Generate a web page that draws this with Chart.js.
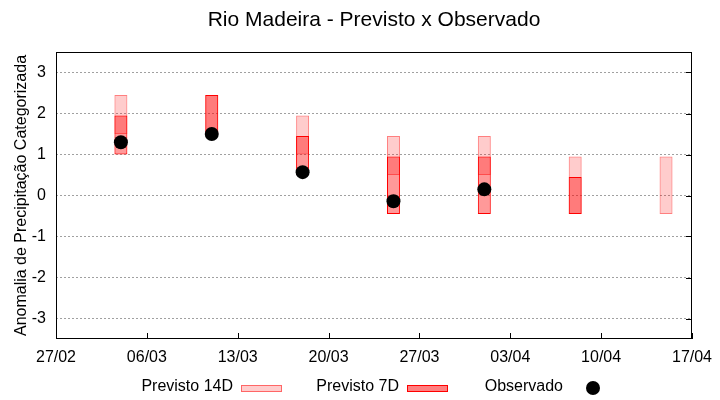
<!DOCTYPE html>
<html>
<head>
<meta charset="utf-8">
<script src="https://cdn.jsdelivr.net/npm/chart.js@4.4.0/dist/chart.umd.min.js"></script>
<style>
  body { margin: 0; background: #fff; }
</style>
</head>
<body>
<canvas id="chart" width="720" height="400"></canvas>
<script>
const startDate = "2023-02-27";
const endDate = "2023-04-17";
const forecastDates = ["2023-03-04", "2023-03-11", "2023-03-18", "2023-03-25", "2023-04-01", "2023-04-08", "2023-04-15"];
const xTickLabels = ["27/02", "06/03", "13/03", "20/03", "27/03", "03/04", "10/04", "17/04"];
const yTickValues = [-3, -2, -1, 0, 1, 2, 3];

// faixas previstas (limite inferior / superior)
const prev14Low = [1.5, 1.5, 1.0, 0.5, 0.5, -0.45, -0.45];
const prev14High = [2.45, 2.45, 1.95, 1.45, 1.45, 0.95, 0.95];
const prev7Low = [1.0, 1.5, 0.5, -0.45, -0.45, -0.45, null];
const prev7High = [1.95, 2.45, 1.45, 0.95, 0.95, 0.45, null];
const observado = [1.3, 1.5, 0.57, -0.14, 0.15, null, null];

function dayOffset(d) {
  return (Date.parse(d) - Date.parse(startDate)) / 86400000;
}

function rangeData(low, high) {
  return forecastDates
    .map((d, i) => ({ x: dayOffset(d), y: [low[i], high[i]] }))
    .filter((p, i) => low[i] !== null && high[i] !== null);
}

function pointData(values) {
  return forecastDates
    .map((d, i) => ({ x: dayOffset(d), y: values[i] }))
    .filter((p, i) => values[i] !== null);
}

Chart.defaults.font.family = "'Liberation Sans', Arial, sans-serif";
Chart.defaults.font.size = 16;
Chart.defaults.color = "#000";

const framePlugin = {
  id: "frame",
  afterDraw(chart) {
    const { ctx, chartArea: a, scales } = chart;
    ctx.save();
    ctx.strokeStyle = "#000";
    ctx.lineWidth = 1;
    ctx.beginPath();
    scales.x.ticks.forEach((t) => {
      const px = Math.round(scales.x.getPixelForValue(t.value)) + 0.5;
      ctx.moveTo(px, a.bottom);
      ctx.lineTo(px, a.bottom - 6);
    });
    scales.y.ticks.forEach((t) => {
      const py = Math.round(scales.y.getPixelForValue(t.value)) + 0.5;
      ctx.moveTo(a.right, py);
      ctx.lineTo(a.right - 6, py);
    });
    ctx.stroke();
    ctx.strokeRect(a.left + 0.5, a.top + 0.5, a.right - a.left - 1, a.bottom - a.top - 1);

    // titulo
    ctx.fillStyle = "#000";
    ctx.font = "21px 'Liberation Sans', Arial, sans-serif";
    ctx.textAlign = "center";
    ctx.textBaseline = "middle";
    ctx.fillText("Rio Madeira - Previsto x Observado", (a.left + a.right) / 2, 20);

    // legenda
    ctx.font = "16px 'Liberation Sans', Arial, sans-serif";
    ctx.textAlign = "right";
    ctx.fillText("Previsto 14D", 233, 387);
    ctx.fillText("Previsto 7D", 399, 387);
    ctx.fillText("Observado", 563, 387);

    ctx.fillStyle = "rgba(255,0,0,0.2)";
    ctx.fillRect(241, 385, 41, 7);
    ctx.strokeStyle = "rgba(255,0,0,0.5)";
    ctx.strokeRect(241.5, 385.5, 40, 6);

    ctx.fillStyle = "rgba(255,0,0,0.5)";
    ctx.fillRect(407, 385, 41, 7);
    ctx.strokeStyle = "#ff0000";
    ctx.strokeRect(407.5, 385.5, 40, 6);

    ctx.fillStyle = "#000";
    ctx.beginPath();
    ctx.arc(593, 388, 7, 0, Math.PI * 2);
    ctx.fill();
    ctx.restore();
  },
};

new Chart(document.getElementById("chart"), {
  type: "bar",
  data: {
    datasets: [
      {
        label: "Previsto 14D",
        data: rangeData(prev14Low, prev14High),
        backgroundColor: "rgba(255,0,0,0.2)",
        borderColor: "rgba(255,0,0,0.5)",
        borderWidth: 1,
        borderSkipped: false,
        grouped: false,
        barPercentage: 1 / 7,
        categoryPercentage: 1,
        order: 3,
      },
      {
        label: "Previsto 7D",
        data: rangeData(prev7Low, prev7High),
        backgroundColor: "rgba(255,0,0,0.4)",
        borderColor: "#ff0000",
        borderWidth: 1,
        borderSkipped: false,
        grouped: false,
        barPercentage: 1 / 7,
        categoryPercentage: 1,
        order: 2,
      },
      {
        type: "scatter",
        label: "Observado",
        data: pointData(observado),
        backgroundColor: "#000",
        borderWidth: 0,
        pointRadius: 7,
        order: 1,
      },
    ],
  },
  options: {
    responsive: false,
    animation: false,
    layout: { padding: { top: 52, right: 28, left: 0, bottom: 0 } },
    plugins: {
      legend: { display: false },
      title: { display: false },
      tooltip: { enabled: false },
    },
    scales: {
      x: {
        type: "linear",
        offset: false,
        min: 0,
        max: dayOffset(endDate),
        grid: { display: false, offset: false },
        border: { display: false },
        ticks: {
          stepSize: 7,
          padding: 1,
          maxRotation: 0,
          autoSkip: false,
          callback: (v, i) => xTickLabels[i],
        },
        afterFit: (scale) => { scale.height = 61; },
      },
      y: {
        min: -3.5,
        max: 3.5,
        afterBuildTicks: (scale) => {
          scale.ticks = yTickValues.map((v) => ({ value: v }));
        },
        grid: { color: "#a0a0a0", drawTicks: false },
        border: { display: false, dash: [2, 2] },
        ticks: { padding: 10, callback: (v) => v },
        title: {
          display: true,
          text: "Anomalia de Precipitação Categorizada",
          font: { size: 16 },
          padding: { top: 12, bottom: 0 },
        },
        afterFit: (scale) => { scale.width = 56; },
      },
    },
  },
  plugins: [framePlugin],
});
</script>
</body>
</html>
